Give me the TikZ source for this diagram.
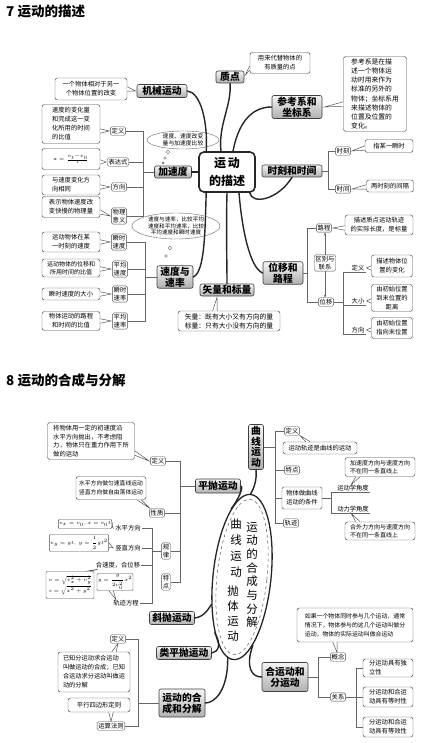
\documentclass[tikz,border=0pt]{standalone}
\usepackage{amsmath}
\usepackage{fontspec}
\setmainfont{Noto Sans CJK SC}
\usetikzlibrary{calc,shapes.geometric,arrows.meta}
\tikzset{
  mainb/.style={draw=black!75, line width=0.6pt, rounded corners=2pt, top color=gray!8, bottom color=gray!62, font=\bfseries\fontsize{9.8}{11}\selectfont, inner sep=1pt, align=center, text=black},
  subb/.style={draw=black!70, line width=0.4pt, rounded corners=1.5pt, fill=white, font=\fontsize{6.3}{7.8}\selectfont, inner sep=1.3pt, align=center},
  note/.style={draw=black!70, line width=0.45pt, rounded corners=2.5pt, fill=white, font=\fontsize{6.3}{9}\selectfont, inner sep=1.5pt, align=center},
  ul/.style={font=\fontsize{6.3}{7}\selectfont, inner sep=1pt},
  brk/.style={draw=black!60, line width=0.45pt},
  branch/.style={draw=black!85, line width=1.4pt, line cap=round},
  ptrl/.style={draw=black!70, line width=0.45pt},
  bub/.style={draw=black!60, line width=0.4pt},
  fbox/.style={draw=black!70, line width=0.45pt, rounded corners=1pt, fill=white, inner sep=0.8pt, align=center},
}
\newcommand\ptrh[3]{%
  \fill[white] ($(#1)+(0,#2-2.2)$) -- #3 -- ($(#1)+(0,#2+2.2)$) -- cycle;
  \draw[ptrl] ($(#1)+(0,#2-2.2)$) -- #3 -- ($(#1)+(0,#2+2.2)$);}
\newcommand\ptrv[3]{%
  \fill[white] ($(#1)+(#2-2.2,0)$) -- #3 -- ($(#1)+(#2+2.2,0)$) -- cycle;
  \draw[ptrl] ($(#1)+(#2-2.2,0)$) -- #3 -- ($(#1)+(#2+2.2,0)$);}
\begin{document}
\begin{tikzpicture}[x=1pt,y=-1pt]
\fill[white] (0,0) rectangle (431,743);
\useasboundingbox (0,0) rectangle (431,743);

% ---------------- titles
\node[anchor=west, font=\bfseries\fontsize{13.5}{15}\selectfont, inner sep=0] (t7) at (6,11.5) {7 运动的描述};
\node[anchor=west, font=\bfseries\fontsize{13.5}{15}\selectfont, inner sep=0] (t8) at (6,380) {8 运动的合成与分解};

% ================= section 7
\node[draw=black!85, line width=1.6pt, rounded corners=5pt, minimum width=56, minimum height=40, fill=white, font=\bfseries\fontsize{12}{18}\selectfont, align=center] (c7) at (227,172) {运\,动\\的描述};

% 质点
\node[mainb, minimum width=28, minimum height=12] (zd) at (230,77) {质点};
\node[note, minimum width=60, minimum height=21] (zdn) at (280,63) {用来代替物体的\\有质量的点};
\ptrh{zdn.west}{5}{($(zd.east)+(1,-2)$)}

% 参考系和坐标系
\node[mainb, minimum width=50, minimum height=23] (ck) at (297,107) {参考系和\\坐标系};
\node[note, minimum width=63, minimum height=75, align=left, font=\fontsize{6.8}{9.2}\selectfont] (ckn) at (375,94) {参考系是在描\\述一个物体运\\动时用来作为\\标准的另外的\\物体；坐标系用\\来描述物体的\\位置及位置的\\变化。};
\ptrh{ckn.west}{10}{($(ck.east)+(2,0)$)}

% 机械运动
\node[mainb, minimum width=50, minimum height=13] (jx) at (162,91) {机械运动};
\node[note, minimum width=72, minimum height=22] (jxn) at (91,89) {一个物体相对于另一\\个物体位置的改变};
\ptrh{jxn.east}{0}{($(jx.west)+(-1,0)$)}

% 时刻和时间
\node[mainb, minimum width=60, minimum height=12] (sk) at (292,171) {时刻和时间};
\node[subb] (skA) at (343,151) {时刻};
\node[subb] (skB) at (343,189) {时间};
\node[note, minimum width=48, minimum height=13] (skAn) at (389,146) {指某一瞬时};
\node[note, minimum width=47, minimum height=12] (skBn) at (390,186) {两时刻的间隔};
\ptrh{skAn.west}{2}{($(skA.east)+(1,0)$)}
\ptrh{skBn.west}{1}{($(skB.east)+(1,0)$)}
\draw[brk] (skA.west) -- ++(-7,0) coordinate (bk1) |- (skB.west);
\draw[brk] (sk.east) -- (sk.east -| bk1);

% 加速度
\node[mainb, minimum width=37, minimum height=12] (js) at (173,172) {加速度};
\node[subb] (jsA) at (118,131) {定义};
\node[subb] (jsB) at (118,162) {表达式};
\node[subb] (jsC) at (119,187) {方向};
\node[subb] (jsD) at (119,216) {物理\\意义};
\node[note, minimum width=58, minimum height=39, align=left] (jsAn) at (71,124) {速度的变化量\\和完成这一变\\化所用的时间\\的比值};
\node[note, minimum width=58, minimum height=21, font=\fontsize{4.5}{6}\selectfont] (jsBn) at (71,159) {$a=\frac{v_t-v_0}{t}$};
\node[note, minimum width=58, minimum height=20, align=left] (jsCn) at (71,185) {与速度变化方\\向相同};
\node[note, minimum width=58, minimum height=21, align=left] (jsDn) at (71,207) {表示物体速度改\\变快慢的物理量};
\ptrh{jsAn.east}{7}{($(jsA.west)+(-1,0)$)}
\ptrh{jsBn.east}{3}{($(jsB.west)+(-1,0)$)}
\ptrh{jsCn.east}{2}{($(jsC.west)+(-1,0)$)}
\ptrh{jsDn.east}{5}{($(jsD.west)+(-1,0)$)}
\coordinate (bj) at (143,172);
\draw[brk] (jsA.east) -- (jsA.east -| bj) -- (jsD.east -| bj) -- (jsD.east);
\draw[brk] (jsB.east) -- (jsB.east -| bj);
\draw[brk] (jsC.east) -- (jsC.east -| bj);
\draw[brk] (bj) -- (js.west);
\node[font=\fontsize{5.8}{7}\selectfont, align=center, inner sep=0] (jscl) at (183,140) {速度、速度改变\\量与加速度比较};
\draw[bub] (jscl.center) ellipse [x radius=36, y radius=9];
\draw[bub] (168,152) circle[radius=1.8pt];
\draw[bub] (165,158) circle[radius=1.4pt];
\draw[bub] (163,163) circle[radius=1pt];

% 速度与速率
\node[mainb, minimum width=36, minimum height=21] (sd) at (175,277) {速度与\\速率};
\node[font=\fontsize{5.6}{6.6}\selectfont, align=center, inner sep=0] (sdcl) at (176,226) {速度与速率，比较平均\\速度和平均速率，比较\\平均速度和瞬时速度};
\draw[bub] (sdcl.center) ellipse [x radius=44, y radius=13];
\draw[bub] (170,248) circle[radius=1.8pt];
\draw[bub] (166,256) circle[radius=1.3pt];
\node[subb] (sdA) at (119,242) {瞬时\\速度};
\node[subb] (sdB) at (120,269) {平均\\速度};
\node[subb] (sdC) at (120,294) {瞬时\\速率};
\node[subb] (sdD) at (120,321) {平均\\速率};
\node[note, minimum width=58, minimum height=20, align=left] (sdAn) at (71,242) {运动物体在某\\一时刻的速度};
\node[note, minimum width=58, minimum height=18, font=\fontsize{6}{8.5}\selectfont] (sdBn) at (71,268) {运动物体的位移和\\所用时间的比值};
\node[note, minimum width=58, minimum height=12] (sdCn) at (71,294) {瞬时速度的大小};
\node[note, minimum width=58, minimum height=19] (sdDn) at (71,321) {物体运动的路程\\和时间的比值};
\ptrh{sdAn.east}{0}{($(sdA.west)+(-1,0)$)}
\ptrh{sdBn.east}{1}{($(sdB.west)+(-1,0)$)}
\ptrh{sdCn.east}{0}{($(sdC.west)+(-1,0)$)}
\ptrh{sdDn.east}{0}{($(sdD.west)+(-1,0)$)}
\coordinate (bs) at (145,277);
\draw[brk] (sdA.east) -- (sdA.east -| bs) -- (sdD.east -| bs) -- (sdD.east);
\draw[brk] (sdB.east) -- (sdB.east -| bs);
\draw[brk] (sdC.east) -- (sdC.east -| bs);
\draw[brk] (bs) -- (sd.west);

% 矢量和标量
\node[mainb, minimum width=54, minimum height=12] (sl) at (227,290) {矢量和标量};
\node[note, minimum width=102, minimum height=20, align=left, font=\fontsize{6.8}{9}\selectfont] (sln) at (229,321) {矢量：既有大小又有方向的量\\标量：只有大小没有方向的量};
\ptrv{sln.north}{-14}{($(sl.south)+(-10,1)$)}

% 位移和路程
\node[mainb, minimum width=40, minimum height=22] (wy) at (283,273) {位移和\\路程};
\node[subb] (lc) at (324,228) {路程};
\node[subb] (qb) at (325,263) {区别与\\联系};
\node[subb] (wyi) at (326,302) {位移};
\node[note, minimum width=68, minimum height=20] (lcn) at (379,225) {描述质点运动轨迹\\的实际长度，是标量};
\ptrh{lcn.west}{3}{($(lc.east)+(1,0)$)}
\coordinate (bw) at (307,273);
\draw[brk] (lc.west) -- (lc.west -| bw) -- (wyi.west -| bw) -- (wyi.west);
\draw[brk] (wy.east) -- (bw);
\draw[brk, -{Stealth[length=3pt,width=2.5pt]}] (qb.north) -- (qb.north |- lc.south);
\draw[brk, -{Stealth[length=3pt,width=2.5pt]}] (qb.south) -- (qb.south |- wyi.north);
\node[ul] (wdA) at (358,268) {定义};
\node[ul] (wdB) at (358,301) {大小};
\node[ul] (wdC) at (358,330) {方向};
\coordinate (bw2) at (343,302);
\draw[brk] (wdA.south east) -- (wdA.south east -| bw2) -- (wdC.south east -| bw2) -- (wdC.south east);
\draw[brk] (wdB.south east) -- (wdB.south east -| bw2);
\draw[brk] (wyi.east) -- (wyi.east -| bw2);
\node[note, minimum width=41, minimum height=22] (wdn) at (392,266) {描述物体位\\置的变化};
\node[note, minimum width=41, minimum height=27] (wsn) at (392,298) {由初始位置\\到末位置的\\距离};
\node[note, minimum width=41, minimum height=21] (wfn) at (392,328) {由初始位置\\指向末位置};
\ptrh{wdn.west}{2}{($(wdA.east)+(1,0)$)}
\ptrh{wsn.west}{3}{($(wdB.east)+(1,0)$)}
\ptrh{wfn.west}{2}{($(wdC.east)+(1,0)$)}

% branches of section 7
\draw[branch] ($(c7.north)+(-6,0)$) .. controls (218,125) and (232,105) .. (zd.south);
\draw[branch] ($(c7.north)+(6,0)$) .. controls (238,125) and (250,107) .. (ck.west);
\draw[branch] (jx.east) .. controls (200,92) and (208,120) .. ($(c7.north west)+(8,0)$);
\draw[branch] (js.east) -- (c7.west);
\draw[branch] ($(c7.south east)+(-6,0)$) .. controls (252,205) and (278,200) .. (sk.south);
\draw[branch] ($(c7.south west)+(8,0)$) .. controls (205,230) and (205,272) .. (sd.east);
\draw[branch] (c7.south) .. controls (226,230) and (227,260) .. (sl.north);
\draw[branch] ($(c7.south)+(12,0)$) .. controls (242,230) and (250,268) .. (wy.west);

% ================= section 8
\node[ellipse, draw=black!85, line width=1.3pt, minimum width=58, minimum height=166, inner sep=0, rotate=-6, fill=white] (c8) at (242,577) {};
\node[ellipse, draw=black!65, dashed, line width=0.5pt, minimum width=50, minimum height=156, inner sep=0, rotate=-6] (c8i) at (242,577) {};
\node[font=\fontsize{11.5}{13.7}\selectfont, align=center, inner sep=0] (c8r) at (252,575) {运\\动\\的\\合\\成\\与\\分\\解};
\node[font=\fontsize{11.5}{16}\selectfont, align=center, inner sep=0] (c8a) at (236,548) {曲\\线\\运\\动};
\node[font=\fontsize{11.5}{15}\selectfont, align=center, inner sep=0] (c8b) at (233,614) {抛\\体\\运\\动};

% 曲线运动
\node[mainb, minimum width=15, minimum height=45, font=\bfseries\fontsize{9.8}{10.5}\selectfont] (qx) at (256,447) {曲\\线\\运\\动};
\node[subb] (qxA) at (292,431) {定义};
\node[subb] (qxB) at (292,470) {特点};
\node[subb, minimum width=40, minimum height=22, font=\fontsize{6.3}{9}\selectfont] (qxC) at (302,498) {物体做曲线\\运动的条件};
\node[subb] (qxD) at (291,523) {轨迹};
\coordinate (bq) at (275,447);
\draw[brk] (qxA.west) -- (qxA.west -| bq) -- (qxD.west -| bq) -- (qxD.west);
\draw[brk] (qxB.west) -- (qxB.west -| bq);
\draw[brk] (qxC.west) -- (qxC.west -| bq);
\draw[brk] (qx.east) -- (bq);
\node[note, minimum width=74, minimum height=12] (qxAn) at (320,448) {运动轨迹是曲线的运动};
\ptrv{qxAn.north}{-12}{($(qxA.south east)+(0,0)$)}
\node[ul] (yd1) at (353,488) {运动学角度};
\node[ul] (yd2) at (353,509) {动力学角度};
\coordinate (bq2) at (331,498);
\draw[brk] (yd1.south east) -- (yd1.south east -| bq2) -- (yd2.south east -| bq2) -- (yd2.south east);
\draw[brk] (qxC.east) -- (qxC.east -| bq2);
\node[note, minimum width=70, minimum height=19, align=left, font=\fontsize{6}{8.5}\selectfont] (qkn) at (380,467) {加速度方向与速度方向\\不在同一条直线上};
\ptrv{qkn.south}{-22}{($(yd1.north)+(-2,1)$)}
\node[note, minimum width=70, minimum height=18, align=left, font=\fontsize{6}{8.5}\selectfont] (qdn) at (380,531) {合外力方向与速度方向\\不在同一条直线上};
\ptrv{qdn.north}{-22}{($(yd2.south)+(-2,0)$)}

% 平抛运动
\node[mainb, minimum width=45, minimum height=14] (pp) at (218,486) {平抛运动};
\node[subb] (ppA) at (158,461) {定义};
\node[subb] (ppB) at (157,513) {性质};
\node[subb, font=\fontsize{6.3}{8}\selectfont] (ppC) at (166,551) {规\\律};
\node[subb, font=\fontsize{6.3}{8}\selectfont] (ppD) at (166,582) {特\\点};
\coordinate (bpp) at (180,486);
\draw[brk] (ppA.east) -- (ppA.east -| bpp) -- (ppD.east -| bpp) -- (ppD.east);
\draw[brk] (ppB.east) -- (ppB.east -| bpp);
\draw[brk] (ppC.east) -- (ppC.east -| bpp);
\draw[brk] (pp.west) -- (bpp);
\node[note, minimum width=87, minimum height=37, align=left, font=\fontsize{6.3}{8.5}\selectfont] (ppAn) at (91,441) {将物体用一定的初速度沿\\水平方向抛出，不考虑阻\\力，物体只在重力作用下所\\做的运动};
\ptrh{ppAn.east}{12}{($(ppA.west)+(-1,0)$)}
\node[note, minimum width=70, minimum height=23, font=\fontsize{5.8}{8.5}\selectfont] (ppBn) at (111,488) {水平方向做匀速直线运动\\竖直方向做自由落体运动};
\ptrv{ppBn.south}{28}{($(ppB.north west)+(1,0)$)}
\node[ul] (l1) at (128,528) {水平方向};
\node[ul] (l2) at (128,548) {竖直方向};
\node[ul] (l3) at (118,565) {合速度，合位移};
\node[ul] (l4) at (126,603) {轨迹方程};
\coordinate (bp) at (152,551);
\draw[brk] (l1.east) -- (l1.east -| bp) -- (l4.east -| bp) -- (l4.east);
\draw[brk] (l2.east) -- (l2.east -| bp);
\draw[brk] (l3.east) -- (l3.east -| bp);
\draw[brk] (ppC.west) -- (bp);
\node[fbox, minimum width=35, minimum height=9, font=\fontsize{4.6}{6}\selectfont] (f1) at (85,524) {$v_x=v_0,x=v_0t$};
\ptrh{f1.east}{0}{($(l1.west)+(-1,0)$)}
\node[fbox, minimum width=45, minimum height=17, font=\fontsize{5}{6}\selectfont] (f2) at (79,543) {$v_y=gt,\ y=\dfrac{1}{2}gt^2$};
\ptrh{f2.east}{2}{($(l2.west)+(-1,0)$)}
\node[fbox, minimum width=48, minimum height=27, align=left, font=\fontsize{4.8}{11}\selectfont] (f3) at (70,585) {$v=\sqrt{v_x^2+v_y^2}$\\$s=\sqrt{x^2+y^2}$};
\ptrv{f3.north}{18}{($(l3.south west)+(3,0)$)}
\node[fbox, minimum width=28, minimum height=17, font=\fontsize{4.8}{6}\selectfont] (f4) at (115,582) {$y=\dfrac{g}{2v_0^2}x^2$};
\ptrv{f4.south}{-4}{($(l4.north west)+(4,1)$)}

% 斜抛, 类平抛
\node[mainb, minimum width=45, minimum height=13] (xp) at (172,618) {斜抛运动};
\node[mainb, minimum width=55, minimum height=13] (lp) at (184,653) {类平抛运动};

% 运动的合成和分解
\node[mainb, minimum width=46, minimum height=28] (hc) at (182,703) {运动的合\\成和分解};
\node[subb] (hcA) at (118,639) {定义};
\node[subb] (hcB) at (111,726) {运算法则};
\coordinate (bhc) at (138,703);
\draw[brk] (hcA.east) -- (hcA.east -| bhc) -- (hcB.east -| bhc) -- (hcB.east);
\draw[brk] (hc.west) -- (bhc);
\node[note, minimum width=72, minimum height=40, align=left, font=\fontsize{6.2}{9}\selectfont] (hcAn) at (94,672) {已知分运动求合运动\\叫做运动的合成；已知\\合运动求分运动叫做运\\动的分解};
\ptrv{hcAn.north}{20}{(hcA.south)}
\node[note, minimum width=62, minimum height=14] (hcBn) at (99,705) {平行四边形定则};
\ptrv{hcBn.south}{12}{(hcB.north)}

% 合运动和分运动
\node[mainb, minimum width=46, minimum height=29] (hf) at (285,677) {合运动和\\分运动};
\node[subb] (hfA) at (338,657) {概念};
\node[subb] (hfB) at (338,697) {关系};
\coordinate (bhf) at (318,677);
\draw[brk] (hfA.west) -- (hfA.west -| bhf) -- (hfB.west -| bhf) -- (hfB.west);
\draw[brk] (hf.east) -- (bhf);
\node[note, minimum width=116, minimum height=34, align=left, font=\fontsize{5.9}{9}\selectfont] (hfAn) at (355,625) {如果一个物体同时参与几个运动，通常\\情况下，物体参与的这几个运动叫做分\\运动，物体的实际运动叫做合运动};
\ptrv{hfAn.south}{-20}{($(hfA.north)+(-1,0)$)}
\node[note, minimum width=50, minimum height=18, align=left] (r1) at (388,668) {分运动具有独\\立性};
\node[note, minimum width=50, minimum height=20, align=left] (r2) at (388,697) {分运动和合运\\动具有等时性};
\node[note, minimum width=50, minimum height=20, align=left] (r3) at (388,727) {分运动和合运\\动具有等效性};
\coordinate (bh2) at (356,697);
\draw[brk] (r1.west) -- (r1.west -| bh2) -- (r3.west -| bh2) -- (r3.west);
\draw[brk] (r2.west) -- (r2.west -| bh2);
\draw[brk] (hfB.east) -- (bh2);

% branches of section 8
\draw[branch] (qx.south) .. controls (257,480) and (254,488) .. (c8.north);
\draw[branch] (pp.east) .. controls (244,487) and (238,500) .. (c8.105);
\draw[branch] (xp.east) .. controls (205,617) and (210,606) .. (c8.228);
\draw[branch] (lp.east) .. controls (218,652) and (222,645) .. (c8.250);
\draw[branch] (hc.east) .. controls (215,703) and (228,690) .. (c8.266);
\draw[branch] (hf.west) .. controls (252,677) and (245,668) .. (c8.285);
\end{tikzpicture}
\end{document}
